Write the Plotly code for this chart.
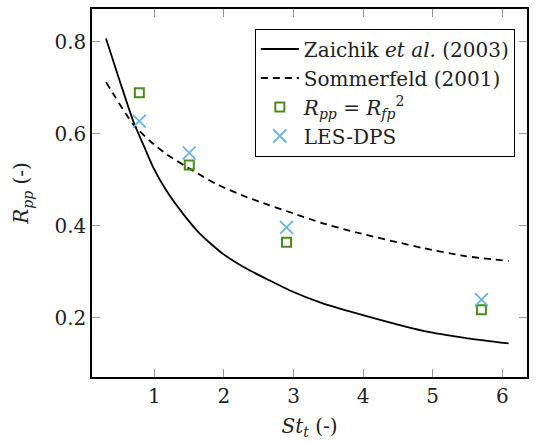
import plotly.graph_objects as go

# Zaichik et al. (2003) curve
zai_x = [0.306, 0.507, 0.698, 0.842, 0.986, 1.178, 1.417, 1.657, 1.991, 2.328, 2.615, 2.95, 3.40, 3.908, 4.865, 5.50, 6.09]
zai_y = [0.807, 0.713, 0.627, 0.576, 0.526, 0.475, 0.425, 0.382, 0.338, 0.306, 0.284, 0.259, 0.232, 0.209, 0.171, 0.155, 0.144]

# Sommerfeld (2001) curve
som_x = [0.306, 0.698, 0.938, 1.178, 1.56, 1.897, 2.279, 2.638, 2.95, 3.40, 3.908, 4.865, 5.45, 6.09]
som_y = [0.712, 0.620, 0.584, 0.555, 0.519, 0.490, 0.465, 0.445, 0.429, 0.406, 0.385, 0.351, 0.334, 0.323]

# R_pp = R_fp^2
sq_x = [0.785, 1.503, 2.90, 5.70]
sq_y = [0.689, 0.532, 0.364, 0.217]

# LES-DPS
les_x = [0.785, 1.503, 2.90, 5.70]
les_y = [0.627, 0.558, 0.396, 0.239]

xticks = [1, 2, 3, 4, 5, 6]
yticks = [0.2, 0.4, 0.6, 0.8]

FONT = "DejaVu Serif"
GREEN = "#4A8C1C"
BLUE = "#6BB5E2"
TXT = "#222222"

fig = go.Figure()
fig.add_trace(go.Scatter(x=zai_x, y=zai_y, mode="lines", line=dict(color="black", width=1.8, shape="spline", smoothing=0.6),
                         name="Zaichik <i>et al.</i> (2003)", legendgroup="a"))
fig.add_trace(go.Scatter(x=som_x, y=som_y, mode="lines", line=dict(color="black", width=1.8, dash="7px,5px", shape="spline", smoothing=0.6),
                         name="Sommerfeld (2001)", legendgroup="b"))
fig.add_trace(go.Scatter(x=sq_x, y=sq_y, mode="markers",
                         marker=dict(symbol="square-open", size=9, color=GREEN, line=dict(width=2, color=GREEN)),
                         name="<i>R</i><sub><i>pp</i></sub> = <i>R</i><sub><i>fp</i></sub><sup>2</sup>", legendgroup="c"))
fig.add_trace(go.Scatter(x=les_x, y=les_y, mode="markers",
                         marker=dict(symbol="x-thin-open", size=13, color=BLUE, line=dict(width=1.8, color=BLUE)),
                         name="LES-DPS", legendgroup="d"))

axis_common = dict(showgrid=False, zeroline=False, showline=True, linecolor="black", linewidth=1.5,
                   mirror="allticks", ticks="inside", ticklen=8, tickcolor="#999999", tickwidth=1,
                   tickfont=dict(family=FONT, size=20, color=TXT))

fig.update_xaxes(range=[0.105, 6.355], tickvals=xticks, ticktext=[str(v) for v in xticks],
                 title=dict(text="<i>St</i><sub><i>t</i></sub> (-)", font=dict(family=FONT, size=20, color=TXT), standoff=12),
                 **axis_common)
fig.update_yaxes(range=[0.0708, 0.871], tickvals=yticks, ticktext=[f"{v:.1f}" for v in yticks],
                 title=dict(text="<i>R</i><sub><i>pp</i></sub> (-)", font=dict(family=FONT, size=20, color=TXT), standoff=20),
                 **axis_common)

fig.update_layout(
    width=538, height=444,
    margin=dict(l=92, r=11, t=7, b=67),
    paper_bgcolor="white", plot_bgcolor="white",
    font=dict(family=FONT, size=20, color=TXT),
    legend=dict(x=0.972, y=0.947, xanchor="right", yanchor="top", bgcolor="white",
                bordercolor="black", borderwidth=1, tracegroupgap=0, traceorder="grouped", itemwidth=38,
                font=dict(family=FONT, size=20, color=TXT)),
    showlegend=True,
)

fig.write_html("out.html")
